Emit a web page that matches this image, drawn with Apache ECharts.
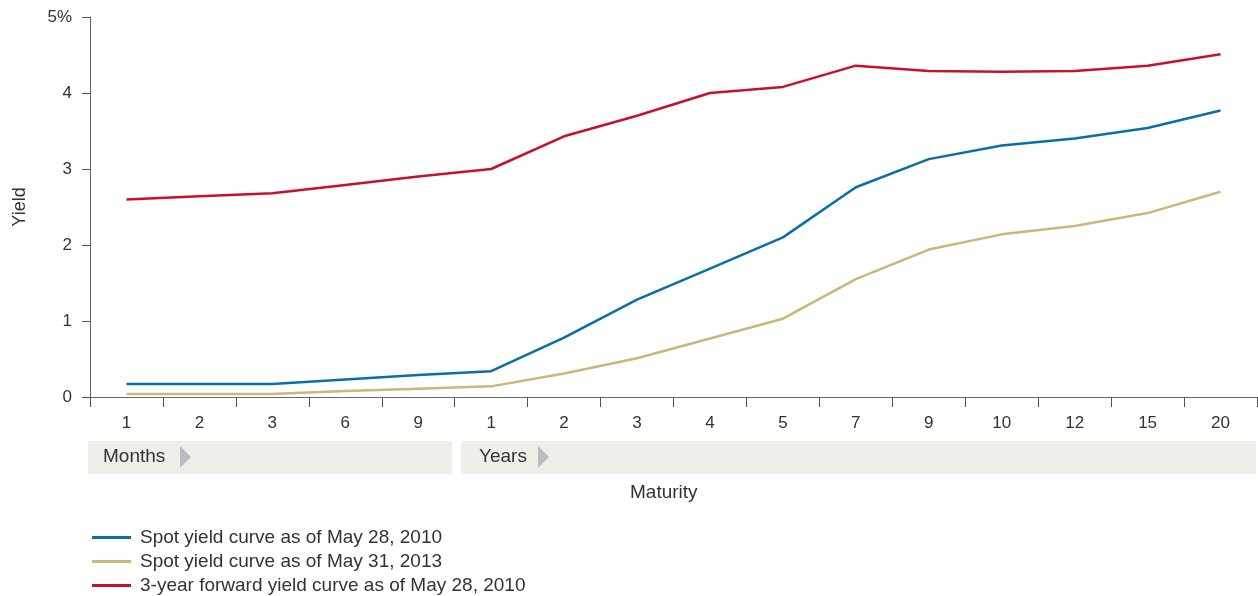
<!DOCTYPE html>
<html><head><meta charset="utf-8">
<script src="https://cdn.jsdelivr.net/npm/echarts@6/dist/echarts.min.js"></script>
<style>html,body{margin:0;padding:0;background:#fff}#c{width:1258px;height:596px}</style>
</head><body><div id="c"></div>
<script>
const categories = ['1','2','3','6','9','1','2','3','4','5','7','9','10','12','15','20'];
const spot2010 = [0.17,0.17,0.17,0.23,0.29,0.34,0.78,1.28,1.69,2.10,2.76,3.13,3.31,3.40,3.54,3.77];
const spot2013 = [0.04,0.04,0.04,0.08,0.11,0.14,0.31,0.51,0.77,1.03,1.55,1.94,2.14,2.25,2.42,2.70];
const forward2010 = [2.60,2.64,2.68,2.79,2.90,3.00,3.43,3.70,4.00,4.08,4.36,4.29,4.28,4.29,4.36,4.51];
const seriesNames = ['Spot yield curve as of May 28, 2010','Spot yield curve as of May 31, 2013','3-year forward yield curve as of May 28, 2010'];
const colors = ['#0a6fa8','#c9b77b','#c8102e'];

const FONT = '"Liberation Sans", Arial, sans-serif';
const TXT = '#333';
const chart = echarts.init(document.getElementById('c'), null, {renderer:'canvas'});
const mk = (name, data, color) => ({
  name, type:'line', data, symbol:'none', smooth:false,
  lineStyle:{color, width:2.5}, itemStyle:{color}, animation:false
});
const legendTops = [528, 552, 576];
const legends = seriesNames.map((n, i) => ({
  orient:'vertical', left:92, top:legendTops[i], padding:0,
  itemWidth:39, itemHeight:3, icon:'rect',
  textStyle:{color:TXT, fontSize:19, fontFamily:FONT, padding:[0,0,0,4]},
  data:[n]
}));
chart.setOption({
  animation:false,
  textStyle:{fontFamily:FONT},
  grid:{left:90, right:1, top:17, bottom:199, containLabel:false},
  xAxis:{
    type:'category', data:categories, boundaryGap:true,
    axisLine:{lineStyle:{color:'#666', width:1}},
    axisTick:{show:true, length:10, lineStyle:{color:'#555'}},
    axisLabel:{color:TXT, fontSize:17, margin:18, fontFamily:FONT}
  },
  yAxis:{
    type:'value', min:0, max:5, interval:1,
    name:'Yield', nameLocation:'middle', nameRotate:90, nameGap:61,
    nameTextStyle:{color:TXT, fontSize:18, fontFamily:FONT},
    axisLine:{show:true, lineStyle:{color:'#666'}},
    axisTick:{show:true, length:8, lineStyle:{color:'#555'}},
    splitLine:{show:false},
    axisLabel:{color:TXT, fontSize:17, margin:18, fontFamily:FONT,
      formatter:v => v===5 ? '5%' : String(v)}
  },
  legend:legends,
  series:[mk(seriesNames[0], spot2010, colors[0]), mk(seriesNames[1], spot2013, colors[1]), mk(seriesNames[2], forward2010, colors[2])],
  graphic:[
    {type:'rect', left:88, top:441, shape:{width:364, height:33}, style:{fill:'#efeee9'}},
    {type:'rect', left:461, top:441, shape:{width:795, height:33}, style:{fill:'#efeee9'}},
    {type:'text', left:103, top:447, style:{text:'Months', fill:TXT, font:'19px '+FONT}},
    {type:'polygon', shape:{points:[[180,446],[180,468],[191,457]]}, style:{fill:'#bbbcc1'}},
    {type:'text', left:479, top:447, style:{text:'Years', fill:TXT, font:'19px '+FONT}},
    {type:'polygon', shape:{points:[[538,446],[538,468],[549,457]]}, style:{fill:'#bbbcc1'}},
    {type:'text', left:630, top:483, style:{text:'Maturity', fill:TXT, font:'19px '+FONT}}
  ]
});
</script></body></html>
